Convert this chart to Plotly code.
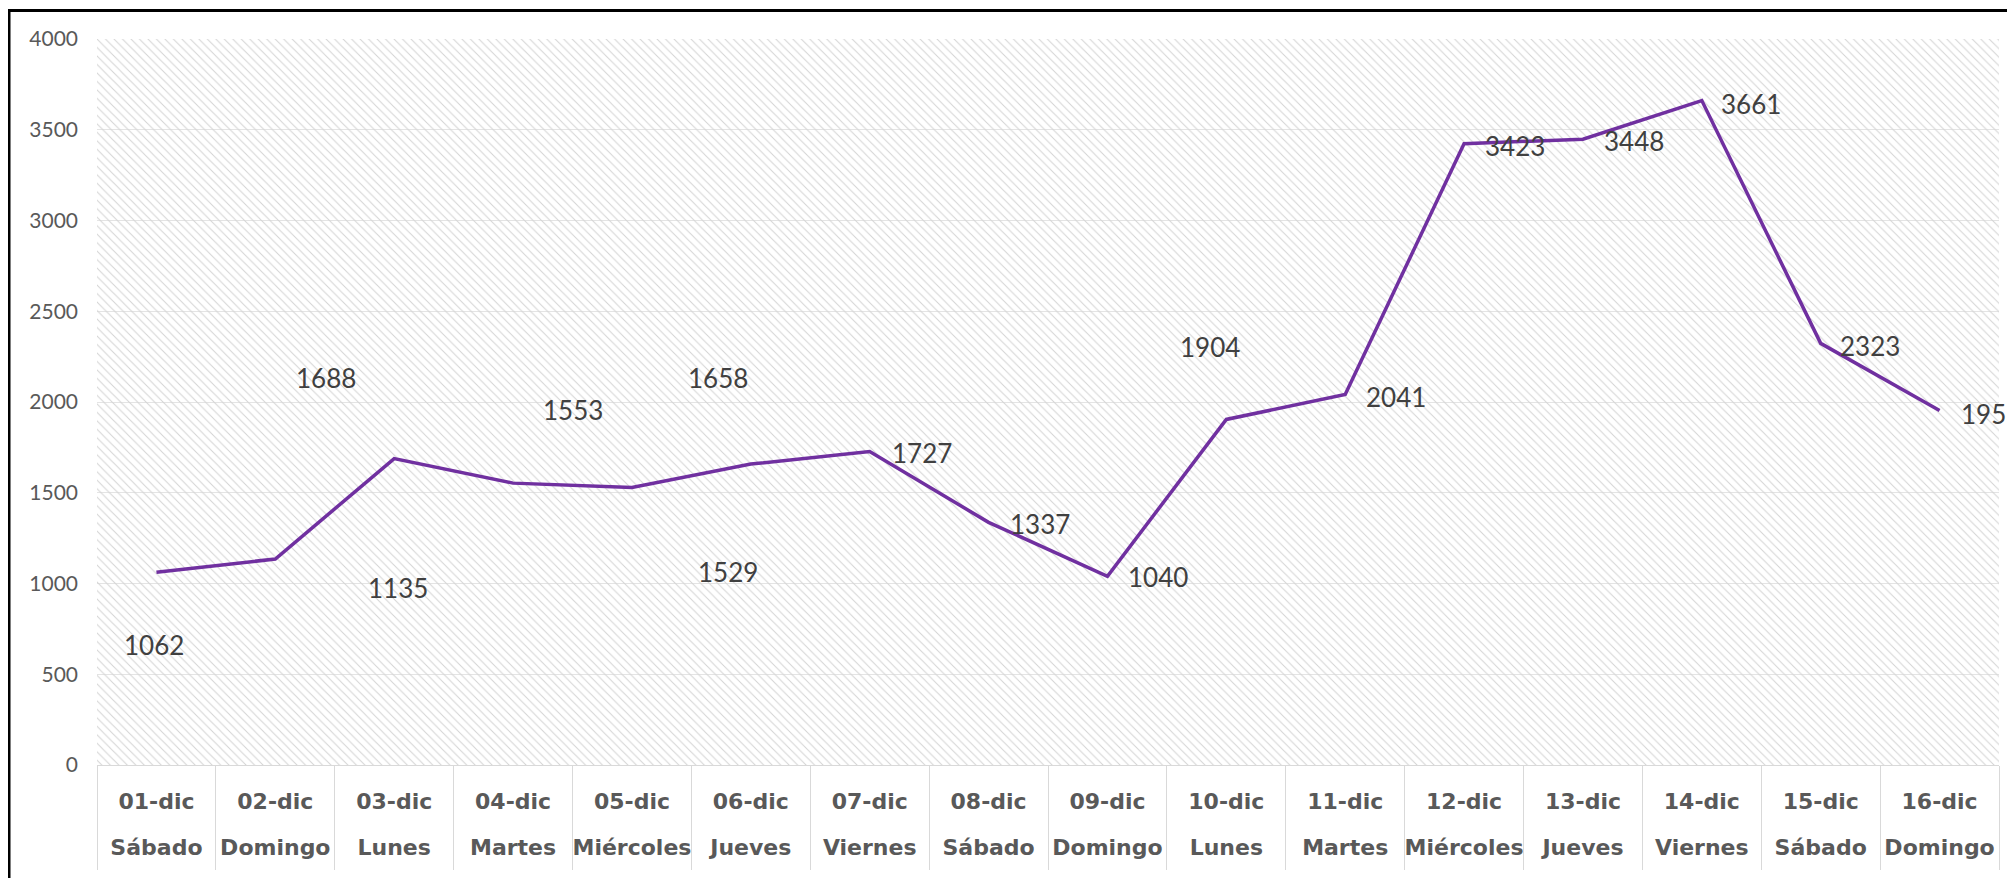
import plotly.graph_objects as go

# data
dates = ["01-dic", "02-dic", "03-dic", "04-dic", "05-dic", "06-dic", "07-dic", "08-dic",
         "09-dic", "10-dic", "11-dic", "12-dic", "13-dic", "14-dic", "15-dic", "16-dic"]
weekdays = ["Sábado", "Domingo", "Lunes", "Martes", "Miércoles", "Jueves", "Viernes", "Sábado",
            "Domingo", "Lunes", "Martes", "Miércoles", "Jueves", "Viernes", "Sábado", "Domingo"]
values = [1062, 1135, 1688, 1553, 1529, 1658, 1727, 1337,
          1040, 1904, 2041, 3423, 3448, 3661, 2323, 1953]
y_max = 4000

# where each data label sits relative to its point (px), as in the reference
label_dx = [-2, 123, -68, 60, 96, -33, 52, 51, 51, -16, 51, 51, 51, 49, 49, 51]
label_dy = [-73, -29, 81, 73, -85, 86, -1, -2, -1, 72, -2, -2, -2, -3, -3, -3]

OFF = 8  # the page body adds an 8px margin
W, H = 2015 + OFF, 878 + OFF
L, T = 97 - OFF, 39 - OFF
R = W - (1999 - OFF)
B = H - (765 - OFF)
pw, ph = W - L - R, H - T - B
n = len(values)
idx = list(range(n))

fig = go.Figure()

# hatched plot area (Excel pattern fill)
fig.add_trace(go.Bar(
    x=dates, y=[y_max] * n, width=1,
    marker=dict(
        color="rgba(0,0,0,0)",
        line=dict(width=0),
        pattern=dict(shape="\\", size=6, solidity=0.17,
                     fgcolor="#d4d4d4", fillmode="replace"),
    ),
    hoverinfo="skip", showlegend=False,
))

fig.add_trace(go.Scatter(
    x=dates, y=values,
    mode="lines", name="Total",
    line=dict(color="#7030A0", width=3.5),
    showlegend=False,
))

# invisible carriers so the weekday and separator axes get drawn
for ax in ("x2", "x3"):
    fig.add_trace(go.Scatter(
        x=idx, y=values, xaxis=ax, mode="markers",
        marker=dict(opacity=0), hoverinfo="skip", showlegend=False,
    ))

for i, v in enumerate(values):
    fig.add_annotation(
        x=i, y=v, text=str(v), showarrow=False,
        xshift=label_dx[i], yshift=label_dy[i],
        font=dict(family="Lato", size=26, color="#404040"),
    )

# black frame of the chart object (right/bottom edges are off-screen)
fig.add_shape(
    type="rect", xref="paper", yref="paper",
    x0=(9 - OFF - L) / pw, x1=(W + 20 - L) / pw,
    y0=-(H + 20 - T - ph) / ph, y1=(ph + T - (10.5 - OFF)) / ph,
    line=dict(color="black", width=3), fillcolor="rgba(0,0,0,0)",
)

label_font = dict(family="DejaVu Sans", size=22, color="#595959", weight="bold")

fig.update_layout(
    width=W, height=H,
    margin=dict(l=L, r=R, t=T, b=B, autoexpand=False),
    paper_bgcolor="white", plot_bgcolor="white",
    bargap=0,
    showlegend=False,
    xaxis=dict(
        type="category", range=[-0.5, n - 0.5],
        showgrid=False, showline=True, linecolor="#d9d9d9", linewidth=1,
        ticks="", tickfont=label_font, ticklabelstandoff=17,
    ),
    # second row of category labels (weekdays)
    xaxis2=dict(
        overlaying="x", anchor="y", side="bottom",
        range=[-0.5, n - 0.5], tickvals=idx, ticktext=weekdays,
        showgrid=False, zeroline=False, showline=False,
        ticks="", tickfont=label_font, ticklabelstandoff=67,
    ),
    # category separators below the axis
    xaxis3=dict(
        overlaying="x", anchor="y", side="bottom",
        range=[-0.5, n - 0.5], tickvals=[i - 0.5 for i in range(n + 1)],
        showgrid=False, zeroline=False, showline=False, showticklabels=False,
        ticks="outside", ticklen=104, tickwidth=1, tickcolor="#d9d9d9",
    ),
    yaxis=dict(
        range=[0, y_max], dtick=500,
        showgrid=True, gridcolor="#e4e4e4", gridwidth=1,
        zeroline=False, showline=False,
        tickfont=dict(family="Lato", size=21, color="#595959"),
        ticklabelstandoff=18,
    ),
)

fig.write_html("out.html")
